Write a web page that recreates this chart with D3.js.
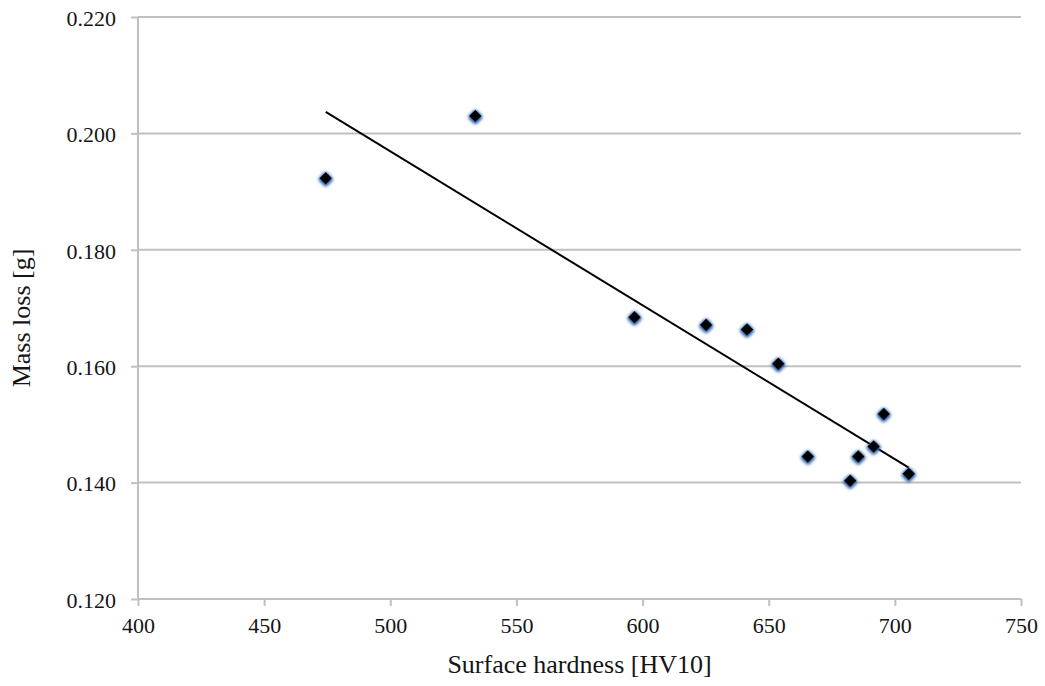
<!DOCTYPE html>
<html>
<head>
<meta charset="utf-8">
<script src="https://cdn.jsdelivr.net/npm/d3@7"></script>
<style>
  html, body { margin: 0; padding: 0; background: #fff; }
  svg { display: block; }
  .tick text { font-family: "Liberation Serif", "Times New Roman", serif; fill: #151515; }
</style>
</head>
<body>
<svg id="chart" width="1045" height="686"></svg>
<script>
// Surface hardness (HV10) of each specimen
const hardness = [474.4, 533.7, 596.8, 625.2, 641.4, 653.8, 665.5, 685.5, 682.3, 691.6, 695.6, 705.5];
// Mass loss (g) measured for each specimen
const massLoss = [0.1923, 0.2030, 0.1684, 0.1671, 0.1663, 0.1604, 0.1445, 0.1445, 0.1403, 0.1462, 0.1518, 0.1415];

const xTicks = [400, 450, 500, 550, 600, 650, 700, 750];
const yTicks = [0.120, 0.140, 0.160, 0.180, 0.200, 0.220];

const xTitle = "Surface hardness [HV10]";
const yTitle = "Mass loss [g]";

const svg = d3.select("#chart");
const margin = { left: 138, right: 24, top: 17, bottom: 87 };
const W = 1045, H = 686;

const x = d3.scaleLinear().domain([400, 750]).range([margin.left, W - margin.right]);
const y = d3.scaleLinear().domain([0.120, 0.220]).range([H - margin.bottom, margin.top]);

const gridColor = "#c0c0c0";

// soft blue glow around the markers
const defs = svg.append("defs");
const glow = defs.append("filter").attr("id", "glow")
  .attr("x", "-100%").attr("y", "-100%").attr("width", "300%").attr("height", "300%");
glow.append("feMorphology").attr("in", "SourceAlpha").attr("operator", "dilate").attr("radius", 1).attr("result", "fat");
glow.append("feGaussianBlur").attr("in", "fat").attr("stdDeviation", 1.5).attr("result", "blur");
glow.append("feOffset").attr("in", "blur").attr("dx", 0).attr("dy", 1).attr("result", "off");
glow.append("feFlood").attr("flood-color", "#2a62a8").attr("flood-opacity", 1);
glow.append("feComposite").attr("in2", "off").attr("operator", "in").attr("result", "shadow");
const merge = glow.append("feMerge");
merge.append("feMergeNode").attr("in", "shadow");
merge.append("feMergeNode").attr("in", "SourceGraphic");

// horizontal gridlines
svg.append("g")
  .selectAll("line")
  .data(yTicks.filter(t => t > 0.120))
  .join("line")
  .attr("x1", margin.left).attr("x2", W - margin.right)
  .attr("y1", d => y(d)).attr("y2", d => y(d))
  .attr("stroke", gridColor).attr("stroke-width", 2);

// y axis
const yAxis = svg.append("g")
  .attr("transform", `translate(${margin.left},0)`)
  .call(d3.axisLeft(y).tickValues(yTicks).tickFormat(d3.format(".3f")).tickSize(7).tickPadding(15));
yAxis.selectAll("line, path").attr("stroke", gridColor).attr("stroke-width", 2);
yAxis.select(".domain").attr("d", `M0,${y(0.120)}V${y(0.220)}`);
yAxis.selectAll("text").attr("font-size", 22).attr("dy", "0.38em");

// x axis
const xAxis = svg.append("g")
  .attr("transform", `translate(0,${y(0.120)})`)
  .call(d3.axisBottom(x).tickValues(xTicks).tickFormat(d3.format("d")).tickSize(7).tickPadding(11));
xAxis.selectAll("line, path").attr("stroke", gridColor).attr("stroke-width", 2);
xAxis.select(".domain").attr("d", `M${x(400)},0H${x(750)}`);
xAxis.selectAll("text").attr("font-size", 22);

// least-squares trendline across the measured hardness range
const pts = hardness.map((h, i) => [h, massLoss[i]]);
const mx = d3.mean(hardness), my = d3.mean(massLoss);
const slope = d3.sum(pts, p => (p[0] - mx) * (p[1] - my)) / d3.sum(pts, p => (p[0] - mx) ** 2);
const icpt = my - slope * mx;
const [xmin, xmax] = d3.extent(hardness);
svg.append("path")
  .datum([xmin, xmax].map(v => [v, icpt + slope * v]))
  .attr("d", d3.line().x(d => x(d[0])).y(d => y(d[1])))
  .attr("stroke", "#000").attr("stroke-width", 2).attr("fill", "none");

// diamond markers
svg.append("g")
  .selectAll("path")
  .data(pts)
  .join("path")
  .attr("transform", d => `translate(${x(d[0])},${y(d[1])})`)
  .attr("d", d3.symbol().type(d3.symbolDiamond2).size(100))
  .attr("fill", "#000")
  .attr("filter", "url(#glow)");

// axis titles
svg.append("text")
  .attr("x", (x(400) + x(750)) / 2).attr("y", 673)
  .attr("text-anchor", "middle")
  .attr("font-family", "Liberation Serif, Times New Roman, serif")
  .attr("font-size", 26).attr("fill", "#151515")
  .text(xTitle);

svg.append("text")
  .attr("transform", `translate(30,${(y(0.120) + y(0.220)) / 2 + 10}) rotate(-90)`)
  .attr("text-anchor", "middle")
  .attr("font-family", "Liberation Serif, Times New Roman, serif")
  .attr("font-size", 26).attr("fill", "#151515")
  .text(yTitle);
</script>
</body>
</html>
